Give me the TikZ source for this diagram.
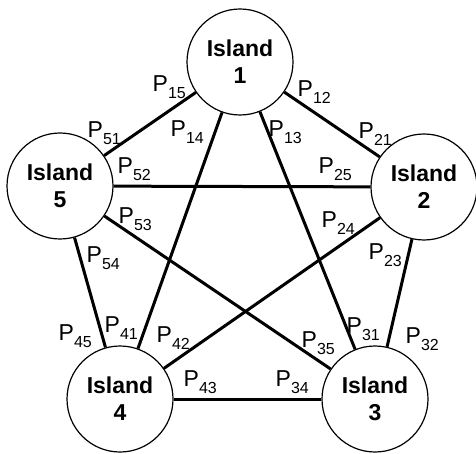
\documentclass[tikz,border=0pt]{standalone}
\usepackage{fontspec}
\setsansfont{Liberation Sans}
\usepackage{tikz}

\newcommand{\plab}[1]{P\raisebox{-7pt}{\fontsize{16}{16}\selectfont #1}}

\tikzset{
  island/.style={draw, circle, line width=1.2pt, minimum size=106pt, inner sep=0pt,
    align=center, font=\sffamily\bfseries\fontsize{23}{27}\selectfont},
  plabel/.style={anchor=base west, inner sep=0pt, xshift=-1.5pt,
    font=\sffamily\fontsize{23}{23}\selectfont},
  link/.style={line width=3pt}
}

\begin{document}
\begin{tikzpicture}[x=1pt, y=-1pt]
        \useasboundingbox (0,0) rectangle (476,454);
        \node[island] (I1) at (240, 62) {Island\\1};
        \node[island] (I2) at (424, 187) {Island\\2};
        \node[island] (I3) at (375, 399) {Island\\3};
        \node[island] (I4) at (120, 399) {Island\\4};
        \node[island] (I5) at (60, 186) {Island\\5};
        \foreach \a/\b in {1/2, 1/3, 1/4, 1/5, 2/3, 2/4, 2/5, 3/4, 3/5, 4/5}
          \draw[link] (I\a) -- (I\b);
        \foreach \ij/\x/\y in {15/154/92, 12/299/97, 51/89/138, 14/172/137, 13/270/137,
            21/360/139, 52/119/174, 25/320/174, 53/120/224, 24/323/228, 54/88/262,
            23/370/259, 41/106/332, 45/60/340, 42/158/342, 31/348/333, 35/303/347,
            32/407/343, 43/185/386, 34/277/386}
          \node[plabel] (p\ij) at (\x, \y) {\plab{\ij}};
      \end{tikzpicture}
\end{document}
